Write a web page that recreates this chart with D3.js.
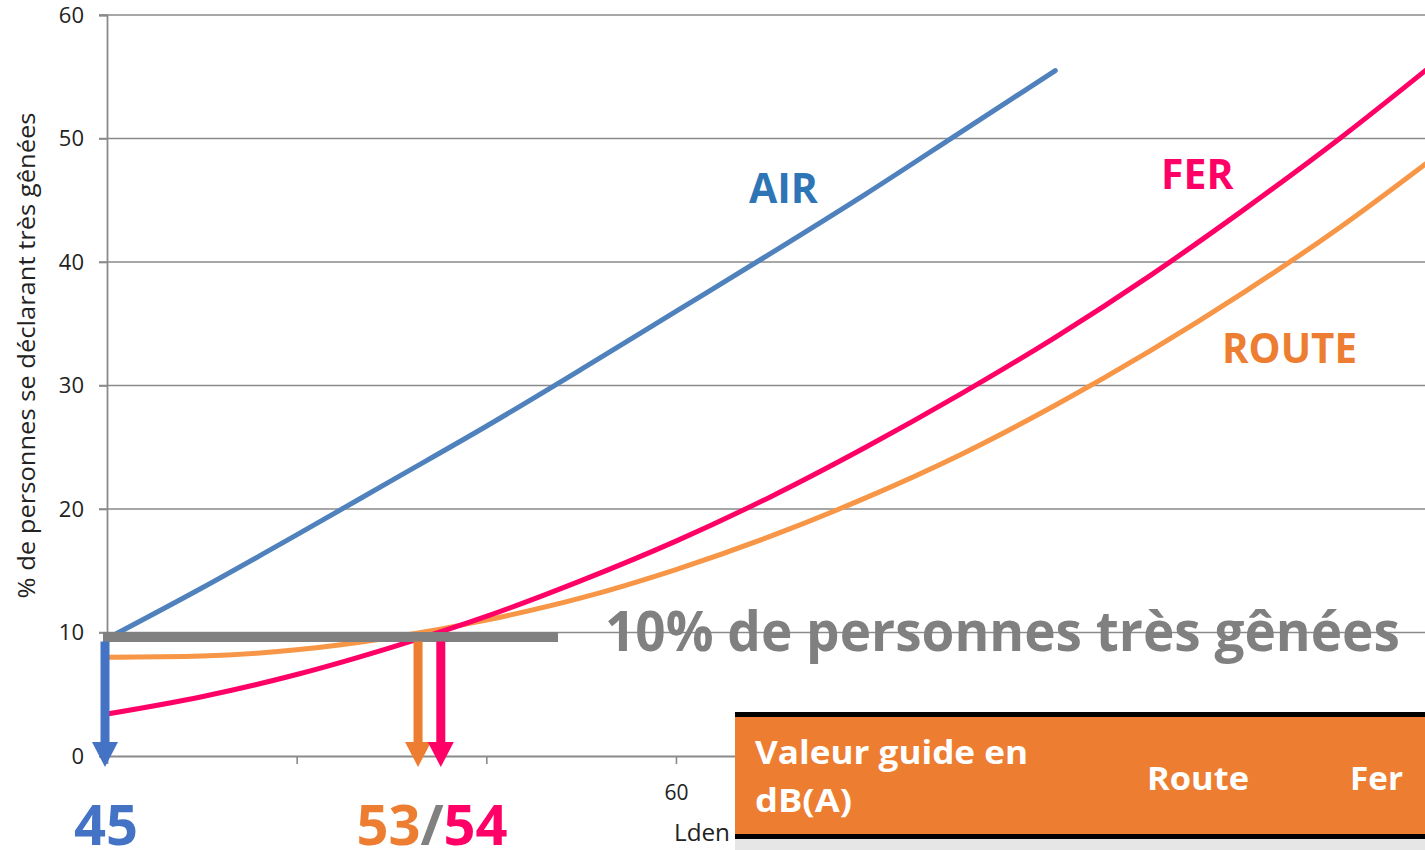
<!DOCTYPE html>
<html>
<head>
<meta charset="utf-8">
<script src="https://cdn.jsdelivr.net/npm/d3@7"></script>
<style>
  html, body { margin: 0; padding: 0; background: #fff; }
  svg { display: block; font-family: "Open Sans", sans-serif; }
</style>
</head>
<body>
<svg id="chart" width="1425" height="850"></svg>
<script>
// Lden levels (dB) where the curves are sampled
const ldenAir = [45, 47.5, 50, 52.5, 55, 57.5, 60, 62.5, 65, 67.5, 70];
const pctAir = [9.5, 13.6, 17.9, 22.3, 26.7, 31.3, 36.0, 40.7, 45.5, 50.5, 55.5];

const ldenRail = [45, 47.5, 50, 52.5, 55, 57.5, 60, 62.5, 65, 67.5, 70, 72.5, 75, 77.5, 80];
const pctRail = [3.4, 4.8, 6.6, 8.8, 11.3, 14.2, 17.4, 21.0, 25.0, 29.3, 33.9, 38.9, 44.3, 50.0, 56.1];

const ldenRoad = [45, 47.5, 50, 52.5, 55, 57.5, 60, 62.5, 65, 67.5, 70, 72.5, 75, 77.5, 80];
const pctRoad = [8.0, 8.1, 8.6, 9.6, 11.0, 12.8, 15.1, 17.8, 20.9, 24.4, 28.4, 32.8, 37.6, 42.8, 48.5];

// Threshold and guide values
const threshold = 10;
const guideLden = [45, 53.2, 53.8];      // crossing of the 10 % line: air, route, fer
const yTicks = [0, 10, 20, 30, 40, 50, 60];
const xTicks = [45, 50, 55, 60];
const xTickLabels = ["", "", "", "60"];

const colors = {
  air: "#4f81bd", airText: "#2e75b6", airArrow: "#4472c4",
  rail: "#ff0066",
  road: "#f79646", roadText: "#ed7d31",
  grey: "#808080"
};

const svg = d3.select("#chart");
const x = d3.scaleLinear().domain([45, 80]).range([107, 1434.6]);
const y = d3.scaleLinear().domain([0, 60]).range([756, 15]);

// Horizontal gridlines
svg.append("g").selectAll("line").data(yTicks.filter(d => d > 0)).join("line")
  .attr("x1", 99).attr("x2", 1425)
  .attr("y1", d => y(d)).attr("y2", d => y(d))
  .attr("stroke", "#8a8a8a").attr("stroke-width", 1.6);

// Y axis
const yAxis = svg.append("g").attr("transform", `translate(${x(45)},0)`)
  .call(d3.axisLeft(y).tickValues(yTicks).tickSize(8).tickPadding(15).tickFormat(d3.format("d")));
yAxis.select(".domain").attr("stroke", "#8a8a8a").attr("stroke-width", 1.8);
yAxis.selectAll(".tick line").attr("stroke", "#8a8a8a").attr("stroke-width", 1.6);
yAxis.selectAll(".tick text").attr("font-size", 22).attr("fill", "#222").attr("font-family", "Open Sans");

// X axis
const xAxis = svg.append("g").attr("transform", `translate(0,${y(0)})`)
  .call(d3.axisBottom(x).tickValues(xTicks).tickSize(8).tickPadding(21)
    .tickFormat((d, i) => xTickLabels[i]));
xAxis.select(".domain").attr("stroke", "#8a8a8a").attr("stroke-width", 1.8);
xAxis.selectAll(".tick line").attr("stroke", "#8a8a8a").attr("stroke-width", 1.6)
  .attr("display", d => d === 45 ? "none" : null);
xAxis.selectAll(".tick text").attr("font-size", 21).attr("fill", "#222").attr("font-family", "Open Sans");

svg.append("text").attr("x", 674).attr("y", 841)
  .attr("font-size", 23).attr("fill", "#222")
  .attr("textLength", 56).attr("lengthAdjust", "spacingAndGlyphs").text("Lden");

// Y axis title
svg.append("text")
  .attr("transform", `translate(35,${(y(60) + y(0)) / 2 - 30}) rotate(-90)`)
  .attr("text-anchor", "middle").attr("font-size", 23).attr("fill", "#222")
  .attr("textLength", 486).attr("lengthAdjust", "spacingAndGlyphs")
  .text("% de personnes se déclarant très gênées");

// Curves
const line = d3.line().x(d => x(d[0])).y(d => y(d[1])).curve(d3.curveMonotoneX);
const plot = svg.append("g");
[
  [ldenRoad, pctRoad, colors.road],
  [ldenRail, pctRail, colors.rail],
  [ldenAir, pctAir, colors.air]
].forEach(([xs, ys, c]) => {
  plot.append("path").datum(xs.map((v, i) => [v, ys[i]]))
    .attr("d", line).attr("fill", "none").attr("stroke", c)
    .attr("stroke-width", 5).attr("stroke-linecap", "round");
});

// 10 % threshold bar
svg.append("line")
  .attr("x1", x(45) - 4).attr("x2", 558)
  .attr("y1", y(threshold) + 4.5).attr("y2", y(threshold) + 4.5)
  .attr("stroke", colors.grey).attr("stroke-width", 10);

// Threshold caption, horizontally condensed to span 605 → 1400
const cap = svg.append("text").attr("x", 0).attr("y", 0)
  .attr("font-size", 56).attr("font-weight", 700).attr("fill", colors.grey)
  .text("10% de personnes très gênées");
const capW = cap.node().getComputedTextLength() || 950;
cap.attr("transform", `translate(605,651) scale(${795 / capW},1)`);

// Downward arrows from the threshold to the axis
const arrowColors = [colors.airArrow, colors.roadText, colors.rail];
const arrows = svg.append("g");
guideLden.forEach((v, i) => {
  const cx = x(v) - (i === 0 ? 2 : 0);
  const top = y(threshold) + 9, headBase = y(0) - 14, tip = y(0) + 11;
  arrows.append("rect").attr("x", cx - 4.5).attr("y", top)
    .attr("width", 9).attr("height", headBase - top + 1).attr("fill", arrowColors[i]);
  arrows.append("path")
    .attr("d", `M${cx - 13},${headBase} L${cx + 13},${headBase} L${cx},${tip} Z`)
    .attr("fill", arrowColors[i]);
});

// Guide value labels
svg.append("text").attr("x", x(45) - 1).attr("y", 845).attr("text-anchor", "middle")
  .attr("font-size", 56).attr("font-weight", 700).attr("fill", colors.airArrow).text("45");
const vl = svg.append("text").attr("x", 432).attr("y", 845).attr("text-anchor", "middle")
  .attr("font-size", 56).attr("font-weight", 700);
vl.append("tspan").attr("fill", colors.roadText).text("53");
vl.append("tspan").attr("fill", colors.grey).text("/");
vl.append("tspan").attr("fill", colors.rail).text("54");

// Series labels
svg.append("text").attr("x", 749).attr("y", 203).attr("font-size", 41).attr("font-weight", 700)
  .attr("fill", colors.airText).text("AIR");
svg.append("text").attr("x", 1161).attr("y", 189).attr("font-size", 41).attr("font-weight", 700)
  .attr("fill", colors.rail).text("FER");
svg.append("text").attr("x", 1222).attr("y", 363).attr("font-size", 41).attr("font-weight", 700)
  .attr("fill", colors.roadText).attr("textLength", 135).attr("lengthAdjust", "spacingAndGlyphs")
  .text("ROUTE");

// Guide-value table header
const table = svg.append("g");
table.append("rect").attr("x", 735).attr("y", 713).attr("width", 690).attr("height", 125).attr("fill", "#ed7d31");
table.append("rect").attr("x", 735).attr("y", 838).attr("width", 690).attr("height", 12).attr("fill", "#e6e6e6");
table.append("rect").attr("x", 735).attr("y", 712).attr("width", 690).attr("height", 5).attr("fill", "#000");
table.append("rect").attr("x", 735).attr("y", 834).attr("width", 690).attr("height", 5).attr("fill", "#000");
const hdr = [
  { t: "Valeur guide en", x: 755, y: 764, w: 273 },
  { t: "dB(A)", x: 755, y: 812, w: 97 },
  { t: "Route", x: 1147, y: 790, w: 102 },
  { t: "Fer", x: 1350, y: 790, w: 53 }
];
table.selectAll("text.h").data(hdr).join("text").attr("class", "h")
  .attr("x", d => d.x).attr("y", d => d.y)
  .attr("font-size", 33).attr("font-weight", 700).attr("fill", "#fff")
  .attr("textLength", d => d.w).attr("lengthAdjust", "spacingAndGlyphs")
  .text(d => d.t);
</script>
</body>
</html>
